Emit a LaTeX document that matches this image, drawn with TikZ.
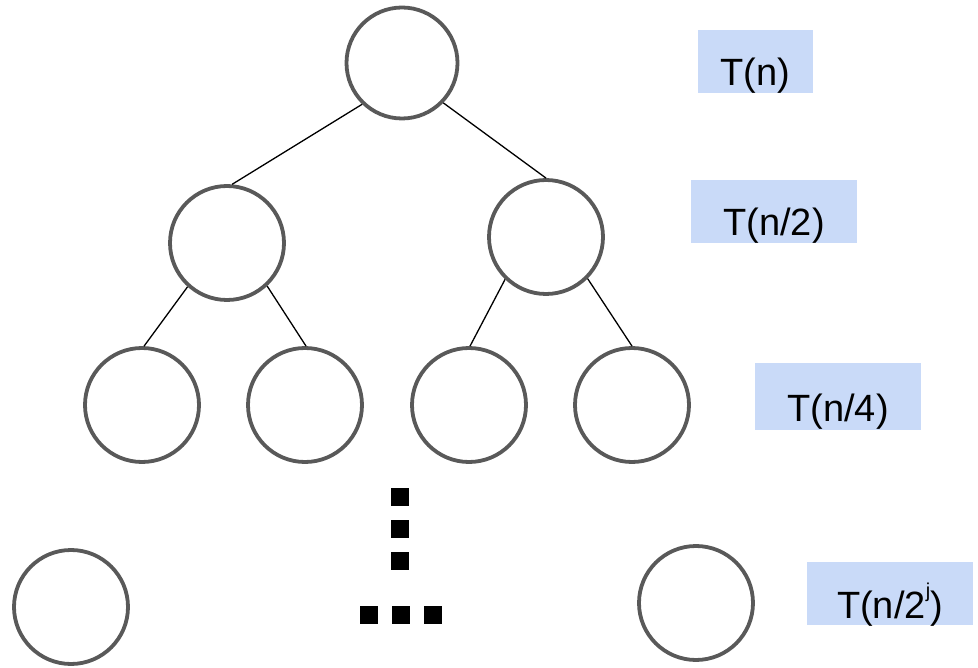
\documentclass[tikz,border=0pt]{standalone}
\usepackage{fontspec}
\setmainfont{Liberation Sans}
\definecolor{ring}{HTML}{595959}
\definecolor{lblue}{HTML}{C9DAF8}
\begin{document}
\begin{tikzpicture}[x=1pt,y=-1pt,
  tnode/.style={circle,draw=ring,line width=3.8pt,minimum size=114pt,inner sep=0pt},
  rootnode/.style={tnode,minimum size=111pt},
  edge/.style={line width=1.3pt,black},
  lbl/.style={fill=lblue,inner sep=0pt,font=\fontsize{38}{38}\selectfont,
    text height=56pt,text depth=7pt,anchor=base},
  sq/.style={fill=black}]
\useasboundingbox (0,0) rectangle (978,668);
% tree nodes
\node[rootnode] (r) at (402,63) {};
\node[tnode] (a) at (227,243) {};
\node[tnode] (b) at (546,237) {};
\node[tnode] (a1) at (142,405) {};
\node[tnode] (a2) at (305,405) {};
\node[tnode] (b1) at (469,405) {};
\node[tnode] (b2) at (632,405) {};
\node[tnode] (z1) at (71,607) {};
\node[tnode] (z2) at (696,603) {};
% edges
\draw[edge] (r.226) -- (a.85);
\draw[edge] (r.-44) -- (b.90);
\draw[edge] (a.228) -- (a1.88);
\draw[edge] (a.-47) -- (a2.89);
\draw[edge] (b.226) -- (b1.89);
\draw[edge] (b.-45) -- (b2.90);
% labels
\node[lbl,minimum width=115pt] (l0) at (755,86) {T(n)};
\node[lbl,minimum width=166pt] (l1) at (774,236) {T(n/2)};
\node[lbl,minimum width=166pt,text height=59pt,text depth=8pt] (l2) at (838,422) {T(n/4)};
\node[lbl,minimum width=166pt] (l3) at (890,618) {T(n/2\raisebox{1.0ex}{\fontsize{20}{20}\selectfont j})};
% dots
\fill[sq] (391,488) rectangle (409,506);
\fill[sq] (391,520) rectangle (409,538);
\fill[sq] (391,552) rectangle (409,570);
\fill[sq] (360,606) rectangle (378,624);
\fill[sq] (392,606) rectangle (410,624);
\fill[sq] (424,606) rectangle (442,624);
\end{tikzpicture}
\end{document}
